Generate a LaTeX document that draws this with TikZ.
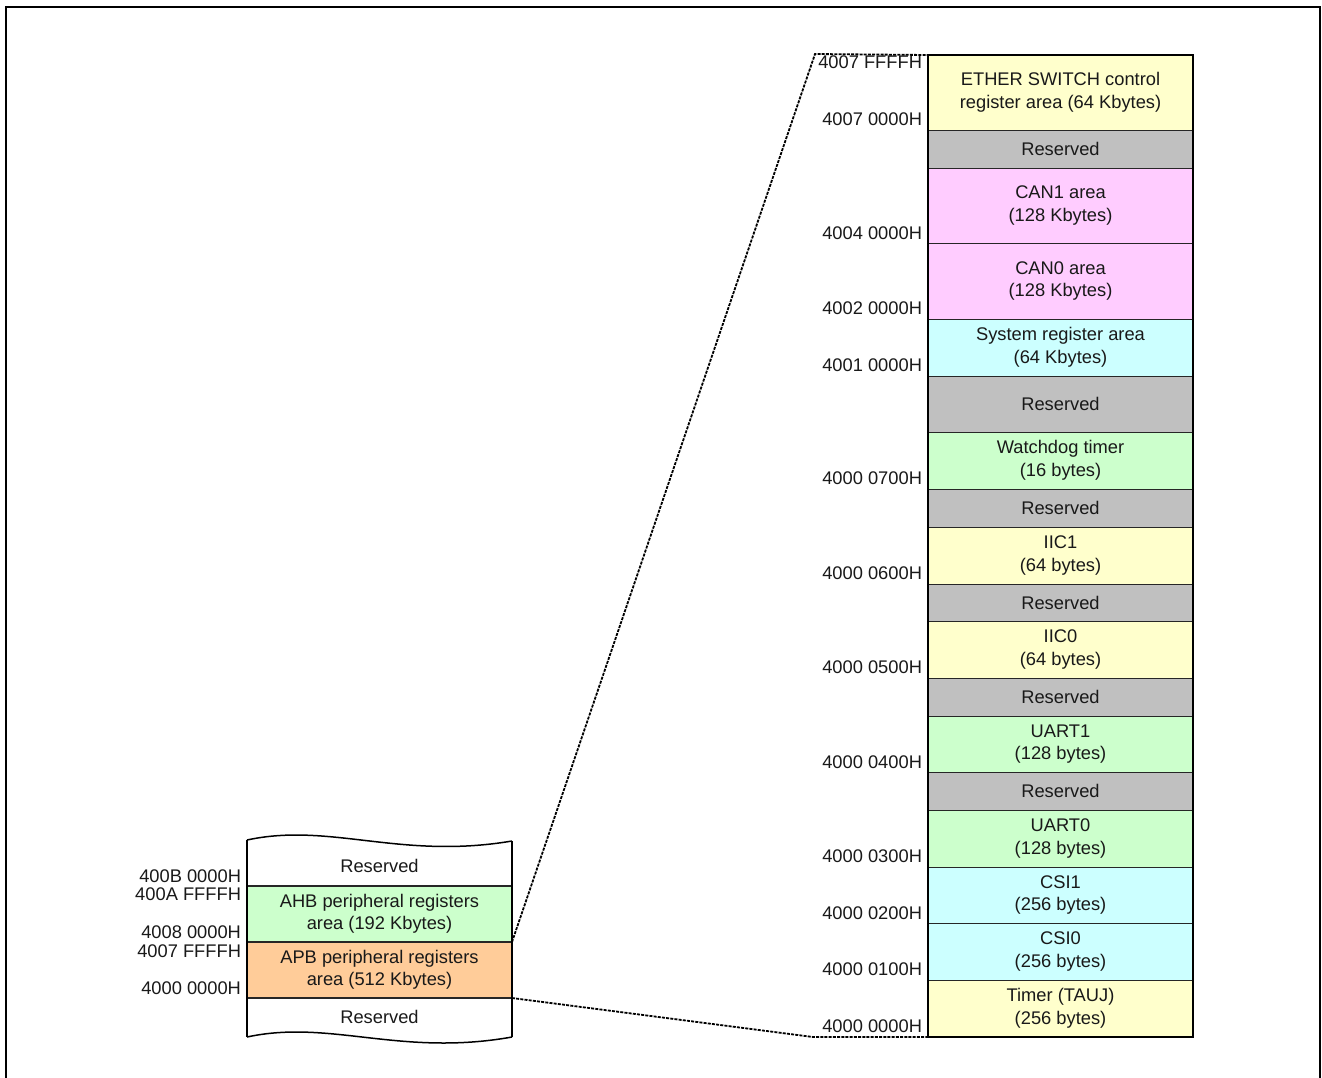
\documentclass[tikz,border=0pt]{standalone}
\usepackage{fontspec}
\setmainfont{Liberation Sans}
\definecolor{cyel}{HTML}{FFFFCC}
\definecolor{cgray}{HTML}{C0C0C0}
\definecolor{cpink}{HTML}{FFCCFF}
\definecolor{ccyan}{HTML}{CCFFFF}
\definecolor{cgreen}{HTML}{CCFFCC}
\definecolor{corange}{HTML}{FFCC99}
\begin{document}
\begin{tikzpicture}[x=1pt,y=-1pt,
  every node/.style={font=\fontsize{18.3}{22.5}\selectfont, inner sep=0pt, outer sep=0pt, align=center, text=black!90},
  cell/.style={draw=black!85, line width=0.9pt, minimum width=265pt},
  lcell/.style={draw=black!85, line width=1.2pt, minimum width=265pt},
  addr/.style={anchor=east},
  conn/.style={line width=1.8pt, dash pattern=on 3pt off 1.2pt}]
\useasboundingbox (0,0) rectangle (1322,1077);
\draw[line width=2pt] (6,7) rectangle (1320,1095);

% right column
\node[cell, fill=cyel,   minimum height=75pt] (r1)  at (1060.5,92.5)  {ETHER SWITCH control\\register area (64 Kbytes)};
\node[cell, fill=cgray,  minimum height=38pt] (r2)  at (1060.5,149)   {Reserved};
\node[cell, fill=cpink,  minimum height=75pt] (r3)  at (1060.5,205.5) {CAN1 area\\(128 Kbytes)};
\node[cell, fill=cpink,  minimum height=76pt] (r4)  at (1060.5,281)   {CAN0 area\\(128 Kbytes)};
\node[cell, fill=ccyan,  minimum height=57pt] (r5)  at (1060.5,347.5) {System register area\\(64 Kbytes)};
\node[cell, fill=cgray,  minimum height=56pt] (r6)  at (1060.5,404)   {Reserved};
\node[cell, fill=cgreen, minimum height=57pt] (r7)  at (1060.5,460.5) {Watchdog timer\\(16 bytes)};
\node[cell, fill=cgray,  minimum height=38pt] (r8)  at (1060.5,508)   {Reserved};
\node[cell, fill=cyel,   minimum height=57pt] (r9)  at (1060.5,555.5) {IIC1\\(64 bytes)};
\node[cell, fill=cgray,  minimum height=37pt] (r10) at (1060.5,602.5) {Reserved};
\node[cell, fill=cyel,   minimum height=57pt] (r11) at (1060.5,649.5) {IIC0\\(64 bytes)};
\node[cell, fill=cgray,  minimum height=38pt] (r12) at (1060.5,697)   {Reserved};
\node[cell, fill=cgreen, minimum height=56pt] (r13) at (1060.5,744)   {UART1\\(128 bytes)};
\node[cell, fill=cgray,  minimum height=38pt] (r14) at (1060.5,791)   {Reserved};
\node[cell, fill=cgreen, minimum height=57pt] (r15) at (1060.5,838.5) {UART0\\(128 bytes)};
\node[cell, fill=ccyan,  minimum height=56pt] (r16) at (1060.5,895)   {CSI1\\(256 bytes)};
\node[cell, fill=ccyan,  minimum height=57pt] (r17) at (1060.5,951.5) {CSI0\\(256 bytes)};
\node[cell, fill=cyel,   minimum height=57pt] (r18) at (1060.5,1008.5) {Timer (TAUJ)\\(256 bytes)};
\draw[line width=2.5pt] (r1.north west) rectangle (r18.south east);

% right addresses
\node[addr] (a1)  at (922,62)   {4007 FFFFH};
\node[addr] (a2)  at (922,119)  {4007 0000H};
\node[addr] (a3)  at (922,233)  {4004 0000H};
\node[addr] (a4)  at (922,308)  {4002 0000H};
\node[addr] (a5)  at (922,365)  {4001 0000H};
\node[addr] (a6)  at (922,478)  {4000 0700H};
\node[addr] (a7)  at (922,573)  {4000 0600H};
\node[addr] (a8)  at (922,667)  {4000 0500H};
\node[addr] (a9)  at (922,762)  {4000 0400H};
\node[addr] (a10) at (922,856)  {4000 0300H};
\node[addr] (a11) at (922,913)  {4000 0200H};
\node[addr] (a12) at (922,969)  {4000 0100H};
\node[addr] (a13) at (922,1026) {4000 0000H};

% left map
\node[lcell, fill=cgreen,  minimum height=56pt] (ahb) at (379.5,914) {AHB peripheral registers\\area (192 Kbytes)};
\node[lcell, fill=corange, minimum height=56pt] (apb) at (379.5,970) {APB peripheral registers\\area (512 Kbytes)};
\node (lres1) at (379.5,866)  {Reserved};
\node (lres2) at (379.5,1017) {Reserved};
\draw[line width=2pt] (247,840) -- (247,1037);
\draw[line width=2pt] (512,841) -- (512,1037);
\draw[line width=1.5pt] (247,840) .. controls (330,822) and (400,860) .. (512,841);
\draw[line width=1.5pt] (247,1037) .. controls (330,1019) and (400,1057) .. (512,1037);

% left addresses
\node[addr] (l1) at (241,876) {400B 0000H};
\node[addr] (l2) at (241,894) {400A FFFFH};
\node[addr] (l3) at (241,932) {4008 0000H};
\node[addr] (l4) at (241,951) {4007 FFFFH};
\node[addr] (l5) at (241,988) {4000 0000H};

% connectors
\coordinate (ct) at (815,54);
\coordinate (cb) at (813,1037);
\draw[conn] (ahb.south east) -- (ct) -- (r1.north west);
\draw[conn] (apb.south east) -- (cb) -- (r18.south west);
\end{tikzpicture}
\end{document}
